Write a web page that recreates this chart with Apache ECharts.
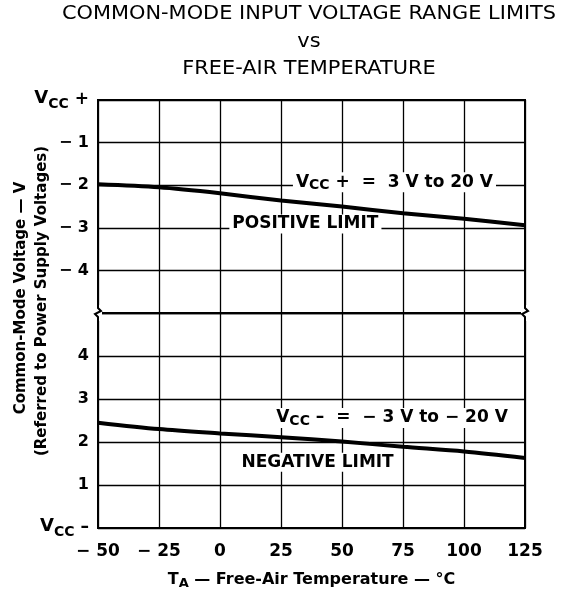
<!DOCTYPE html>
<html>
<head>
<meta charset="utf-8">
<script src="https://cdn.jsdelivr.net/npm/echarts@6/dist/echarts.min.js"></script>
<style>
  html, body { margin: 0; padding: 0; background: #fff; }
</style>
</head>
<body>
<div id="main" style="width:571px;height:595px;"></div>
<script>
// temperatures in degC
var temps = [-50, -25, 0, 25, 50, 75, 100, 125]
// positive limit, volts below VCC+
var posLimit = [-1.98, -2.05, -2.19, -2.36, -2.5, -2.66, -2.79, -2.94]
// negative limit, volts above VCC-
var negLimit = [2.45, 2.3, 2.2, 2.11, 2.01, 1.89, 1.78, 1.63]
var xTicks = ['\u2212 50', '\u2212 25', '0', '25', '50', '75', '100', '125']

var FONT = '"DejaVu Sans", "Liberation Sans", sans-serif'
var chart = echarts.init(document.getElementById('main'))

var vccRich = {
  v: { fontSize: 18, fontWeight: 'bold', fontFamily: FONT, color: '#000', verticalAlign: 'top', padding: [0, 0, 4, 0] },
  s: { fontSize: 14, fontWeight: 'bold', fontFamily: FONT, color: '#000', verticalAlign: 'bottom', padding: [5, 0, 0, 0] },
  p: { fontSize: 17, fontWeight: 'bold', fontFamily: FONT, color: '#000' }
}

function xLabel(v) {
  return xTicks[temps.indexOf(v)]
}

var gridLine = { show: true, lineStyle: { color: '#000', width: 1.3 } }

chart.setOption({
  animation: false,
  backgroundColor: '#fff',
  grid: [
    { left: 98, right: 46, top: 100, height: 213, show: true, borderColor: '#000', borderWidth: 2, backgroundColor: 'transparent' },
    { left: 98, right: 46, top: 313, height: 215, show: true, borderColor: '#000', borderWidth: 2, backgroundColor: 'transparent' }
  ],
  xAxis: [
    { gridIndex: 0, type: 'value', min: -50, max: 125, interval: 25,
      axisLine: { show: false }, axisTick: { show: false }, axisLabel: { show: false }, splitLine: gridLine },
    { gridIndex: 1, type: 'value', min: -50, max: 125, interval: 25,
      axisLine: { show: false }, axisTick: { show: false }, splitLine: gridLine,
      axisLabel: { formatter: xLabel, margin: 15, fontFamily: FONT, fontWeight: 'bold', fontSize: 17, color: '#000' },
      name: '{t|T}{a|A}{t| \u2014 Free-Air Temperature \u2014 \u00b0C}',
      nameLocation: 'middle', nameGap: 42,
      nameTextStyle: {
        rich: {
          t: { fontFamily: FONT, fontWeight: 'bold', fontSize: 16, color: '#000' },
          a: { fontFamily: FONT, fontWeight: 'bold', fontSize: 13, color: '#000', padding: [7, 0, 0, 0] }
        }
      }
    }
  ],
  yAxis: [
    { gridIndex: 0, type: 'value', min: -5, max: 0, interval: 1,
      axisLine: { show: false }, axisTick: { show: false }, splitLine: gridLine,
      axisLabel: {
        margin: 9, fontFamily: FONT, fontWeight: 'bold', fontSize: 16, color: '#000', rich: vccRich,
        formatter: function (v) {
          if (v === 0) return '{v|V}{s|CC}{p| +}'
          if (v === -5) return ''
          return '\u2212 ' + Math.abs(v)
        }
      }
    },
    { gridIndex: 1, type: 'value', min: 0, max: 5, interval: 1,
      axisLine: { show: false }, axisTick: { show: false }, splitLine: gridLine,
      axisLabel: {
        margin: 9, fontFamily: FONT, fontWeight: 'bold', fontSize: 16, color: '#000', rich: vccRich,
        formatter: function (v) {
          if (v === 0) return '{v|V}{s|CC}{p| \u2013}'
          if (v === 5) return ''
          return '' + v
        }
      }
    }
  ],
  series: [
    { name: 'Positive limit', type: 'line', xAxisIndex: 0, yAxisIndex: 0,
      data: temps.map(function (t, i) { return [t, posLimit[i]] }),
      showSymbol: false, smooth: 0.3, lineStyle: { color: '#000', width: 4 }, z: 5 },
    { name: 'Negative limit', type: 'line', xAxisIndex: 1, yAxisIndex: 1,
      data: temps.map(function (t, i) { return [t, negLimit[i]] }),
      showSymbol: false, smooth: 0.3, lineStyle: { color: '#000', width: 4 }, z: 5 }
  ]
})

// annotations, title, axis name and break marks placed from data coords
function px(grid, pt) {
  return chart.convertToPixel({ gridIndex: grid }, pt)
}
var lblRich = {
  v: { fontFamily: FONT, fontWeight: 'bold', fontSize: 17, fill: '#000' },
  s: { fontFamily: FONT, fontWeight: 'bold', fontSize: 14, fill: '#000', padding: [6, 0, 0, 0] }
}
var pVcc = px(0, [71.5, -1.93])
var pPos = px(0, [35, -2.91])
var pVee = px(1, [70.5, 2.56])
var pNeg = px(1, [40, 1.53])
var leftBrk = px(0, [-50, -5])
var rightBrk = px(0, [125, -5])

function zig(x, y) {
  return [
    { type: 'rect', shape: { x: x - 4, y: y - 8, width: 8, height: 16 }, style: { fill: '#fff' }, z: 10 },
    { type: 'polyline', shape: { points: [[x, y - 8], [x, y - 5], [x + 3, y - 2], [x - 3, y + 1], [x, y + 4], [x, y + 8]] },
      style: { stroke: '#000', lineWidth: 2, fill: null }, z: 11 }
  ]
}

var titleLines = ['COMMON-MODE INPUT VOLTAGE RANGE LIMITS', 'vs', 'FREE-AIR TEMPERATURE']
var titleY = [14, 42, 69]

chart.setOption({
  graphic: titleLines.map(function (t, i) {
    return { type: 'text', x: 309, y: titleY[i], scaleX: 1.1, z: 20,
      style: { text: t, font: '19px ' + FONT, fill: '#000', align: 'center', verticalAlign: 'middle' } }
  }).concat([
    { type: 'text', x: pVcc[0], y: pVcc[1], z: 20,
      style: { text: '{v|V}{s|CC}{v| +  =  3 V to 20 V}', rich: lblRich, align: 'center', verticalAlign: 'middle', backgroundColor: '#fff', padding: [0, 3] } },
    { type: 'text', x: pPos[0], y: pPos[1], z: 20,
      style: { text: 'POSITIVE LIMIT', font: 'bold 17px ' + FONT, fill: '#000', align: 'center', verticalAlign: 'middle', backgroundColor: '#fff', padding: [1, 3] } },
    { type: 'text', x: pVee[0], y: pVee[1], z: 20,
      style: { text: '{v|V}{s|CC}{v| \u2013  =  \u2212 3 V to \u2212 20 V}', rich: lblRich, align: 'center', verticalAlign: 'middle', backgroundColor: '#fff', padding: [0, 3] } },
    { type: 'text', x: pNeg[0], y: pNeg[1], z: 20,
      style: { text: 'NEGATIVE LIMIT', font: 'bold 17px ' + FONT, fill: '#000', align: 'center', verticalAlign: 'middle', backgroundColor: '#fff', padding: [1, 3] } },
    { type: 'text', x: 21, y: 298, rotation: Math.PI / 2, z: 20,
      style: { text: 'Common-Mode Voltage \u2014 V', font: 'bold 15px ' + FONT, fill: '#000', align: 'center', verticalAlign: 'middle' } },
    { type: 'text', x: 42, y: 301, rotation: Math.PI / 2, z: 20,
      style: { text: '(Referred to Power Supply Voltages)', font: 'bold 15px ' + FONT, fill: '#000', align: 'center', verticalAlign: 'middle' } }
  ], zig(leftBrk[0], leftBrk[1]), zig(rightBrk[0], rightBrk[1]))
})
</script>
</body>
</html>
